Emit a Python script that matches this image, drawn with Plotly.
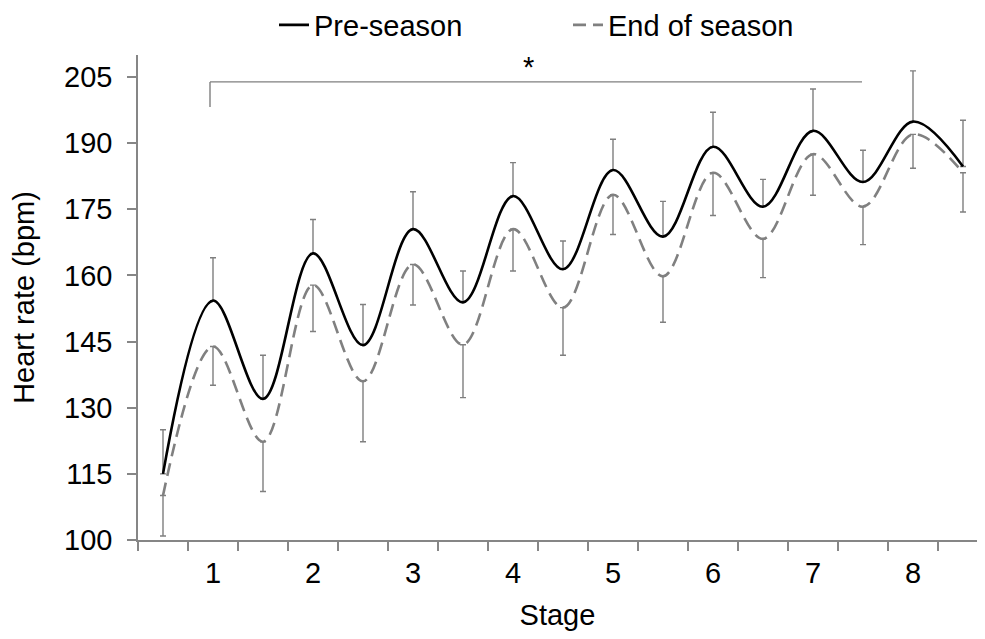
import plotly.graph_objects as go

# Data (x positions are half-stage steps; labels only at whole stages)
x_pos = [0.5, 1, 1.5, 2, 2.5, 3, 3.5, 4, 4.5, 5, 5.5, 6, 6.5, 7, 7.5, 8, 8.5]
pre_season = [115.0, 154.3, 132.0, 165.0, 144.2, 170.5, 153.9, 178.0, 161.4,
              183.9, 168.8, 189.2, 175.6, 192.8, 181.2, 194.9, 184.7]
pre_sd = [10.0, 9.7, 9.9, 7.7, 9.2, 8.5, 7.1, 7.6, 6.4,
          7.0, 8.0, 7.8, 6.2, 9.5, 7.2, 11.5, 10.5]
end_season = [110.1, 143.9, 122.3, 157.8, 136.0, 162.5, 144.3, 170.5, 152.7,
              178.3, 159.8, 183.3, 168.3, 187.5, 175.6, 192.0, 183.3]
end_sd = [9.2, 8.8, 11.3, 10.5, 13.7, 9.2, 12.0, 9.5, 10.8,
          9.0, 10.4, 9.7, 8.8, 9.3, 8.6, 7.7, 8.9]
stage_ticks = [1, 2, 3, 4, 5, 6, 7, 8]
stage_labels = ["1", "2", "3", "4", "5", "6", "7", "8"]
y_ticks = [100, 115, 130, 145, 160, 175, 190, 205]

# Significance bracket (data coordinates)
sig_x0, sig_x1 = 0.97, 7.49
sig_y, sig_y_low = 203.9, 198.2
sig_star_x, sig_star_y = 4.15, 207.3

FONT = "Liberation Sans, Arial, sans-serif"
GRAY = "#7f7f7f"
zeros = [0] * len(x_pos)

# The page body adds an 8px margin, so the figure is sized to fit inside it.
W, H = 969, 623

fig = go.Figure()
fig.add_trace(go.Scatter(
    x=x_pos, y=end_season, mode="lines", name="End of season",
    line=dict(color="#808080", width=2.6, dash="13px,7px", shape="spline", smoothing=1.0),
    error_y=dict(type="data", symmetric=False, array=zeros, arrayminus=end_sd,
                 color=GRAY, thickness=1.4, width=3),
    legend="legend2", showlegend=True, cliponaxis=False,
))
fig.add_trace(go.Scatter(
    x=x_pos, y=pre_season, mode="lines", name="Pre-season",
    line=dict(color="black", width=2.6, shape="spline", smoothing=1.0),
    error_y=dict(type="data", symmetric=False, array=pre_sd, arrayminus=zeros,
                 color=GRAY, thickness=1.4, width=3),
    legend="legend", showlegend=True, cliponaxis=False,
))

fig.add_shape(type="line", xref="x", yref="y", x0=sig_x0, x1=sig_x1, y0=sig_y, y1=sig_y,
              line=dict(color=GRAY, width=1.4))
fig.add_shape(type="line", xref="x", yref="y", x0=sig_x0, x1=sig_x0, y0=sig_y, y1=sig_y_low,
              line=dict(color=GRAY, width=1.4))
fig.add_annotation(x=sig_star_x, y=sig_star_y, xref="x", yref="y", text="*", showarrow=False,
                   font=dict(family=FONT, size=29, color="black"))

fig.update_layout(
    width=W, height=H,
    margin=dict(l=130, r=0, t=47, b=91, autoexpand=False),
    paper_bgcolor="white", plot_bgcolor="white",
    showlegend=True,
    font=dict(family=FONT, size=29, color="black"),
    legend=dict(x=266 / W, xref="container", y=1 - 17 / H, yref="container",
                xanchor="left", yanchor="middle",
                orientation="h", font=dict(size=29), bgcolor="rgba(0,0,0,0)"),
    legend2=dict(x=560 / W, xref="container", y=1 - 17 / H, yref="container",
                 xanchor="left", yanchor="middle",
                 orientation="h", font=dict(size=29), bgcolor="rgba(0,0,0,0)"),
    xaxis=dict(
        range=[0.25, 8.64], tickvals=stage_ticks, ticktext=stage_labels,
        ticks="outside", ticklen=6, tickcolor="rgba(0,0,0,0)",
        showline=True, linecolor="#868686", linewidth=1.5,
        showgrid=False, zeroline=False, automargin=False,
        minor=dict(ticks="outside", tick0=0.25, dtick=0.5, ticklen=9,
                   tickcolor="#868686", tickwidth=1.5, showgrid=False),
        title=dict(text="Stage", font=dict(size=29), standoff=26),
        tickfont=dict(size=29),
    ),
    yaxis=dict(
        range=[100, 210], tickvals=y_ticks,
        ticks="outside", ticklen=9, tickcolor="#868686", tickwidth=1.5,
        ticklabelstandoff=9,
        showline=True, linecolor="#868686", linewidth=1.5,
        showgrid=False, zeroline=False, automargin=False,
        title=dict(text="Heart rate (bpm)", font=dict(size=29), standoff=21),
        tickfont=dict(size=29),
    ),
)

fig.write_html("out.html")
